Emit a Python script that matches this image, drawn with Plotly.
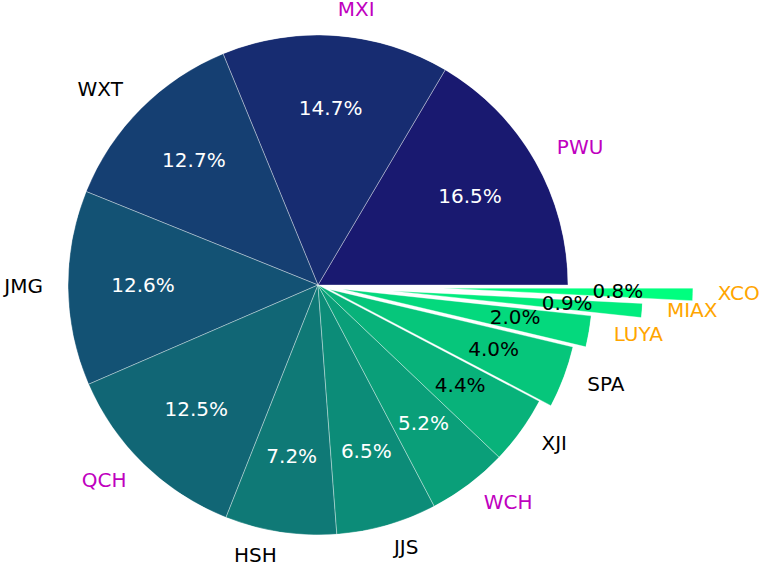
import plotly.graph_objects as go
import math

# ---------------- data ----------------
labels = ["PWU", "MXI", "WXT", "JMG", "QCH", "HSH", "JJS", "WCH", "XJI", "SPA", "LUYA", "MIAX", "XCO"]
shares = [16.5, 14.7, 12.7, 12.6, 12.5, 7.2, 6.5, 5.2, 4.4, 4.0, 2.0, 0.9, 0.8]
explode = [0, 0, 0, 0, 0, 0, 0, 0, 0, 0.05, 0.1, 0.3, 0.5]

# ---------------- styles ----------------
slice_colors = ["#191970", "#172c71", "#153f72", "#135274", "#116675", "#0f7976", "#0c8c78",
                "#0a9f79", "#08b27a", "#06c67b", "#04d97d", "#02ec7e", "#00ff7f"]
MAG, ORG, BLK = "#bf00bf", "#ffa500", "#000000"
label_colors = [MAG, MAG, BLK, BLK, MAG, BLK, BLK, MAG, BLK, BLK, ORG, ORG, ORG]
pct_colors = ["white"] * 8 + ["black"] * 5

W, H = 763, 565
CX, CY, R = 318, 285, 250          # pie centre / radius in pixels
PCT_DIST, LABEL_DIST = 0.7, 1.1
FONT = "DejaVu Sans"
FS = 20
EDGE = dict(color="rgba(255,255,255,0.6)", width=0.6)

total = sum(shares)
spans = [360.0 * v / total for v in shares]
starts = []
acc = 0.0
for s in spans:
    starts.append(acc)
    acc += s
mids = [a + s / 2 for a, s in zip(starts, spans)]


def domain(dx=0.0, dy=0.0):
    cx, cy = CX + dx, CY + dy
    return dict(x=[(cx - R) / W, (cx + R) / W], y=[(H - cy - R) / H, (H - cy + R) / H])


def polar_layout(dom):
    return dict(domain=dom, bgcolor="rgba(0,0,0,0)", hole=0,
                radialaxis=dict(visible=False, range=[0, 1]),
                angularaxis=dict(visible=False, direction="counterclockwise", rotation=0))


def pct_trace(idx, subplot):
    return go.Scatterpolar(
        r=[PCT_DIST] * len(idx), theta=[mids[i] for i in idx], mode="text",
        text=[f"{shares[i]:.1f}%" for i in idx], textposition="middle center",
        textfont=dict(family=FONT, size=FS, color=[pct_colors[i] for i in idx]),
        hoverinfo="skip", subplot=subplot, showlegend=False)


fig = go.Figure()
layout_polars = {}

main_idx = [i for i, e in enumerate(explode) if e == 0]
pulled_idx = [i for i, e in enumerate(explode) if e > 0]

# main (non-exploded) slices
fig.add_trace(go.Barpolar(
    r=[1] * len(main_idx), theta=[mids[i] for i in main_idx], width=[spans[i] for i in main_idx],
    marker=dict(color=[slice_colors[i] for i in main_idx], line=EDGE),
    text=[labels[i] for i in main_idx], hoverinfo="text", subplot="polar", showlegend=False))
fig.add_trace(pct_trace(main_idx, "polar"))
layout_polars["polar"] = polar_layout(domain())

# exploded slices: each in its own polar subplot shifted along its mid angle
n = 2
pulled_domains = []
for i in pulled_idx:
    off = explode[i] * R
    dom = domain(off * math.cos(math.radians(mids[i])), -off * math.sin(math.radians(mids[i])))
    pulled_domains.append((i, dom))
    name = f"polar{n}"
    fig.add_trace(go.Barpolar(
        r=[1], theta=[mids[i]], width=[spans[i]],
        marker=dict(color=[slice_colors[i]], line=EDGE),
        text=[labels[i]], hoverinfo="text", subplot=name, showlegend=False))
    layout_polars[name] = polar_layout(dom)
    n += 1

# percentage texts of exploded slices, above all wedges
for i, dom in pulled_domains:
    name = f"polar{n}"
    fig.add_trace(pct_trace([i], name))
    layout_polars[name] = polar_layout(dom)
    n += 1

# category labels outside the pie, on a cartesian frame measured in pie radii
lx = [(explode[i] + LABEL_DIST) * math.cos(math.radians(mids[i])) for i in range(len(labels))]
ly = [(explode[i] + LABEL_DIST) * math.sin(math.radians(mids[i])) for i in range(len(labels))]
fig.add_trace(go.Scatter(
    x=lx, y=ly, mode="text", text=labels,
    textposition=["middle right" if x >= 0 else "middle left" for x in lx],
    textfont=dict(family=FONT, size=FS, color=label_colors),
    cliponaxis=False, hoverinfo="skip", showlegend=False))

fig.update_layout(
    width=W, height=H,
    margin=dict(l=0, r=0, t=0, b=0),
    paper_bgcolor="white", plot_bgcolor="white",
    showlegend=False,
    font=dict(family=FONT, size=FS),
    xaxis=dict(visible=False, domain=[0, 1], range=[-CX / R, (W - CX) / R], fixedrange=True),
    yaxis=dict(visible=False, domain=[0, 1], range=[-(H - CY) / R, CY / R], fixedrange=True),
    **layout_polars,
)

fig.write_html("out.html")
